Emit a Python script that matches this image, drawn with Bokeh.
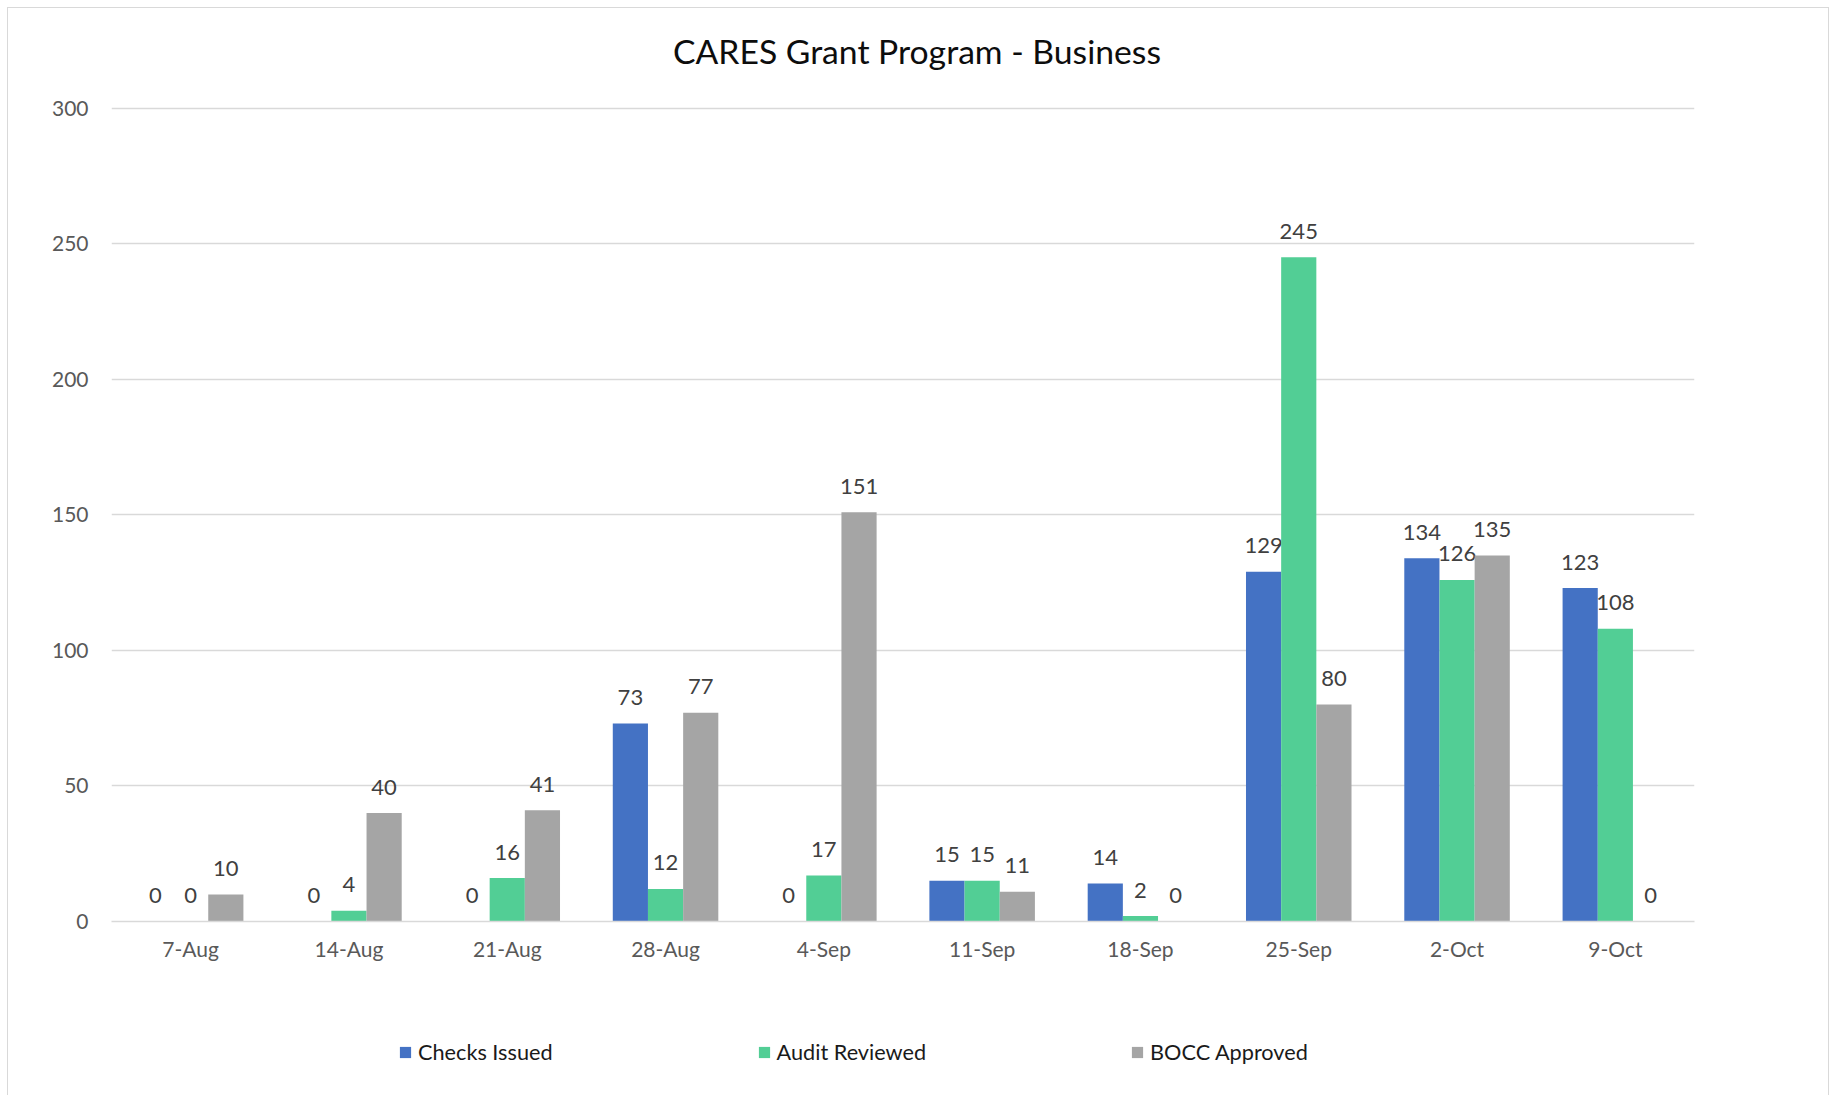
from bokeh.plotting import figure
from bokeh.models import (ColumnDataSource, FactorRange, Range1d, Legend, LegendItem, Label)
from bokeh.layouts import column
from bokeh.transform import dodge
from bokeh.core.properties import value
from bokeh.embed import file_html
from bokeh.resources import INLINE

# ---- data ----
dates = ["7-Aug", "14-Aug", "21-Aug", "28-Aug", "4-Sep", "11-Sep", "18-Sep", "25-Sep", "2-Oct", "9-Oct"]
checks_issued = [0, 0, 0, 73, 0, 15, 14, 129, 134, 123]
audit_reviewed = [0, 4, 16, 12, 17, 15, 2, 245, 126, 108]
bocc_approved = [10, 40, 41, 77, 151, 11, 0, 80, 135, 0]
series_names = ["Checks Issued", "Audit Reviewed", "BOCC Approved"]
y_ticks = [0, 50, 100, 150, 200, 250, 300]
title_text = "CARES Grant Program - Business"

# ---- style ----
FONT = "Lato"
colors = ["#4472C4", "#52CE95", "#A5A5A5"]
W = 1820
H_TITLE = 80
H_MAIN = 920
H_LEG = 87

source = ColumnDataSource(dict(
    date=dates,
    checks=checks_issued,
    audit=audit_reviewed,
    bocc=bocc_approved,
    checks_lbl=[str(v) for v in checks_issued],
    audit_lbl=[str(v) for v in audit_reviewed],
    bocc_lbl=[str(v) for v in bocc_approved],
))

# ---- title strip ----
ph = figure(width=W, height=H_TITLE, x_range=Range1d(0, W), y_range=Range1d(0, H_TITLE),
            output_backend="svg", toolbar_location=None, title=None,
            x_axis_location=None, y_axis_location=None,
            min_border_left=0, min_border_right=0, min_border_top=0, min_border_bottom=0)
ph.grid.visible = False
ph.outline_line_color = None
ph.background_fill_color = "white"
ph.border_fill_color = "white"
ph.add_layout(Label(x=805.5, y=37.7, x_units="screen", y_units="screen", text=title_text,
                    text_align="center", text_baseline="alphabetic",
                    text_font=FONT, text_font_size="33.7px", text_color="#0D0D0D"))

# ---- main chart ----
p = figure(width=W, height=H_MAIN, x_range=FactorRange(*dates), y_range=Range1d(0, 301),
           output_backend="svg", toolbar_location=None, title=None,
           min_border_left=103, min_border_right=134, min_border_top=17,
           min_border_bottom=87)
p.outline_line_color = None
p.background_fill_color = "white"
p.border_fill_color = "white"

bw = 0.2222
offsets = [-bw, 0.0, bw]
fields = ["checks", "audit", "bocc"]
for f, off, c in zip(fields, offsets, colors):
    p.vbar(x=dodge("date", off, range=p.x_range), top=f, width=bw, source=source,
           fill_color=c, line_color=None)
    p.text(x=dodge("date", off, range=p.x_range), y=f, text=f + "_lbl", source=source,
           text_align="center", text_baseline="alphabetic", y_offset=-26,
           text_font=value(FONT), text_font_size="22px", text_color="#404040")

p.yaxis.ticker = y_ticks
p.yaxis.axis_line_color = None
p.yaxis.major_tick_line_color = None
p.yaxis.minor_tick_line_color = None
p.yaxis.major_tick_out = 0
p.yaxis.major_label_standoff = 23
p.yaxis.major_label_text_font = FONT
p.yaxis.major_label_text_font_size = "21px"
p.yaxis.major_label_text_color = "#595959"

p.xaxis.axis_line_color = "#D9D9D9"
p.xaxis.axis_line_width = 1.5
p.xaxis.major_tick_line_color = None
p.xaxis.minor_tick_line_color = None
p.xaxis.major_tick_out = 0
p.xaxis.major_label_standoff = 14
p.xaxis.major_label_text_font = FONT
p.xaxis.major_label_text_font_size = "21px"
p.xaxis.major_label_text_color = "#595959"

p.xgrid.grid_line_color = None
p.ygrid.grid_line_color = "#D9D9D9"
p.ygrid.grid_line_width = 1.5

# ---- legend strip (its bars sit outside the strip's visible y window) ----
pl = figure(width=W, height=H_LEG, x_range=p.x_range, y_range=Range1d(1000, 1000 + H_LEG),
            output_backend="svg", toolbar_location=None, title=None,
            x_axis_location=None, y_axis_location=None,
            min_border_left=0, min_border_right=0, min_border_top=0, min_border_bottom=0)
pl.grid.visible = False
pl.outline_line_color = None
pl.background_fill_color = "white"
pl.border_fill_color = "white"
leg_renderers = [pl.vbar(x=dodge("date", off, range=pl.x_range), top=f, width=bw, source=source,
                         fill_color=c, line_color=None)
                 for f, off, c in zip(fields, offsets, colors)]

legend = Legend(items=[LegendItem(label=n, renderers=[r]) for n, r in zip(series_names, leg_renderers)],
                location=(287, 30), orientation="horizontal", padding=0, margin=0, spacing=204,
                glyph_width=14, glyph_height=14, label_standoff=6, label_height=25,
                label_text_font=FONT, label_text_font_size="21.7px", label_text_color="#1A1A1A",
                border_line_color=None, background_fill_alpha=0)
pl.add_layout(legend, "center")

layout = column(ph, p, pl, spacing=0)
layout.styles = {"border-left": "1px solid #D9D9D9", "border-top": "1px solid #D9D9D9",
                 "border-right": "1px solid #D9D9D9", "margin": "7px 0px 0px 7px"}

open("out.html", "w").write(file_html(layout, INLINE))
